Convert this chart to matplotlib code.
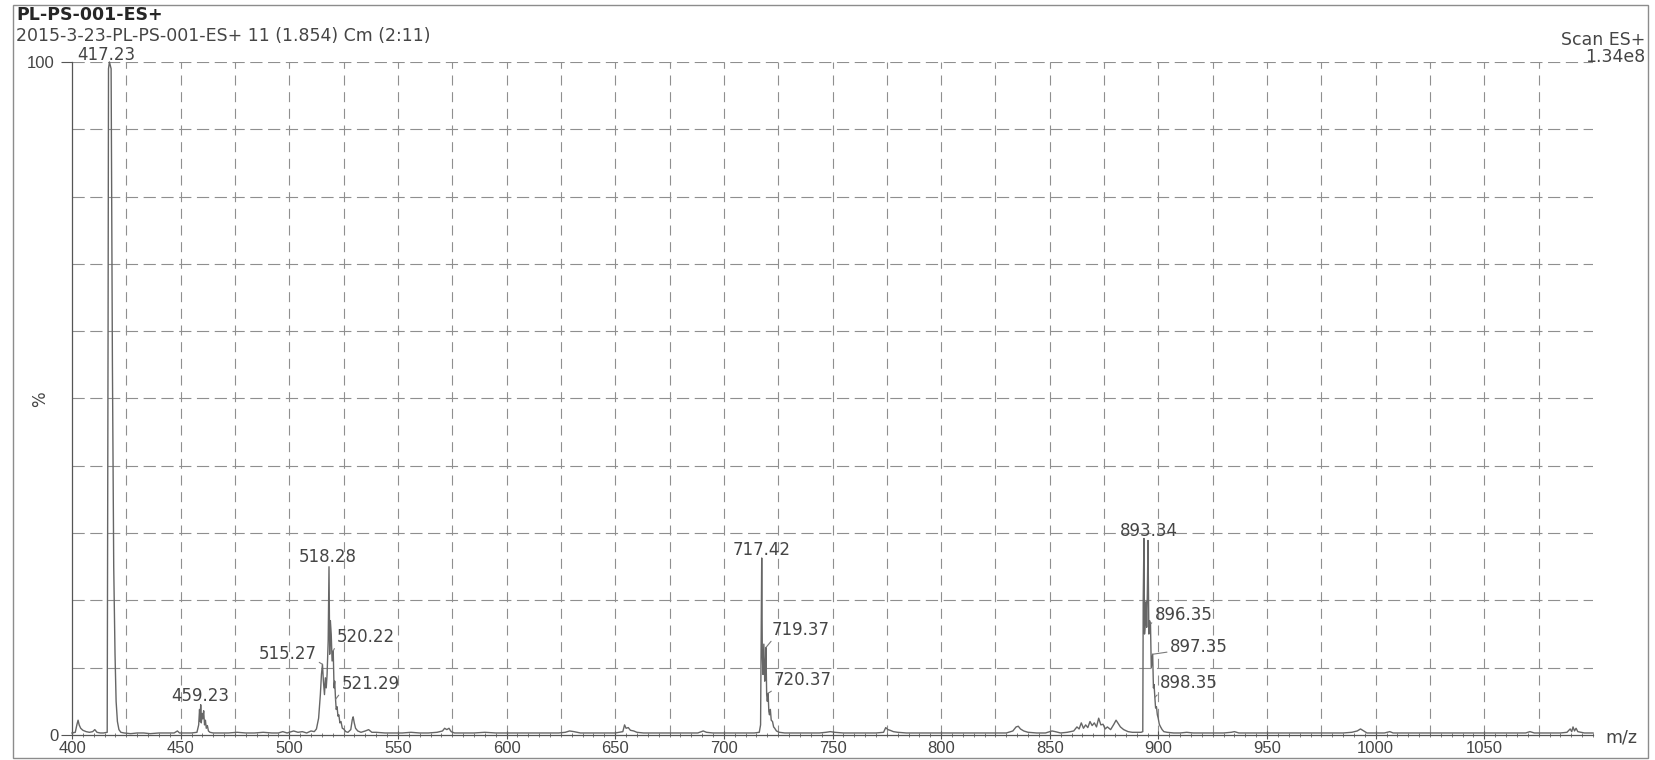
import numpy as np
import matplotlib
matplotlib.use("Agg")
import matplotlib.pyplot as plt
from matplotlib.patches import Rectangle

# ---- spectrum profile (m/z, relative intensity %) ----
mz = [
    400.0, 401.5, 402.3, 402.8, 403.3, 404.0, 405.0, 406.5, 408.0, 409.5,
    410.5, 411.5, 413.0, 414.5, 416.2, 416.6, 416.8, 417.23, 418.0, 418.6,
    419.2, 419.8, 420.3, 420.9, 421.6, 422.5, 424.0, 427.0, 430.0, 433.0,
    436.0, 440.0, 444.0, 447.0, 448.5, 449.5, 452.0, 455.0, 457.5, 458.3,
    458.7, 459.0, 459.23, 459.5, 459.9, 460.2, 460.6, 461.0, 461.4, 461.8,
    462.3, 462.8, 463.5, 465.0, 468.0, 472.0, 476.0, 480.0, 484.0, 488.0,
    492.0, 495.0, 497.0, 499.0, 502.0, 504.0, 506.0, 508.0, 510.0, 511.5,
    512.5, 513.5, 514.3, 514.8, 515.27, 515.7, 516.2, 516.6, 517.0, 517.4,
    517.9, 518.28, 518.6, 518.9, 519.3, 519.7, 520.22, 520.6, 520.9, 521.29,
    521.6, 522.0, 522.4, 522.8, 523.3, 523.8, 524.4, 525.0, 526.0, 527.0,
    528.3, 529.0, 529.4, 529.9, 530.5, 531.5, 533.0, 535.0, 536.5, 538.0,
    540.0, 544.0, 548.0, 552.0, 556.0, 560.0, 564.0, 568.0, 570.5, 571.5,
    572.5, 573.5, 574.5, 576.0, 580.0, 585.0, 590.0, 595.0, 600.0, 605.0,
    610.0, 615.0, 620.0, 624.0, 627.0, 629.0, 631.0, 634.0, 638.0, 642.0,
    646.0, 650.0, 653.5, 654.3, 655.0, 656.0, 657.0, 658.5, 660.0, 663.0,
    667.0, 671.0, 675.0, 680.0, 685.0, 688.0, 690.5, 692.0, 695.0, 700.0,
    705.0, 710.0, 714.0, 716.3, 716.9, 717.2, 717.42, 717.7, 718.0, 718.4,
    718.8, 719.1, 719.37, 719.7, 720.0, 720.37, 720.7, 721.0, 721.4, 721.8,
    722.4, 722.9, 723.4, 724.2, 725.5, 728.0, 732.0, 736.0, 740.0, 744.0,
    747.0, 749.0, 751.0, 755.0, 760.0, 765.0, 770.0, 773.5, 774.5, 775.5,
    776.5, 778.0, 780.0, 784.0, 788.0, 792.0, 796.0, 800.0, 805.0, 810.0,
    815.0, 820.0, 825.0, 830.0, 833.0, 834.5, 835.5, 836.5, 838.0, 840.0,
    844.0, 848.0, 851.0, 852.5, 855.0, 858.0, 861.0, 862.5, 863.5, 864.5,
    865.5, 866.5, 867.5, 868.5, 869.5, 870.5, 871.5, 872.5, 873.5, 874.5,
    875.5, 876.5, 878.0, 879.5, 880.5, 881.5, 882.5, 884.0, 886.0, 888.0,
    890.0, 892.0, 892.8, 893.0, 893.34, 893.6, 894.0, 894.34, 894.6, 894.9,
    895.2, 895.6, 895.9, 896.35, 896.7, 897.0, 897.35, 897.7, 898.0, 898.35,
    898.7, 899.1, 899.5, 899.9, 900.4, 901.0, 901.7, 902.5, 904.0, 907.0,
    910.0, 913.0, 916.0, 920.0, 925.0, 930.0, 933.5, 935.0, 937.0, 940.0,
    945.0, 950.0, 955.0, 960.0, 965.0, 970.0, 975.0, 980.0, 985.0, 989.0,
    991.5, 993.0, 994.5, 996.0, 1000.0, 1004.0, 1006.5, 1008.0, 1012.0, 1016.0,
    1020.0, 1025.0, 1030.0, 1035.0, 1040.0, 1045.0, 1050.0, 1055.0, 1060.0, 1065.0,
    1069.0, 1071.0, 1073.0, 1077.0, 1081.0, 1085.0, 1088.0, 1089.5, 1090.2, 1090.8,
    1091.5, 1092.2, 1093.0, 1094.5, 1096.0, 1098.0, 1100.0,
]
intensity = [
    0.3, 0.4, 1.6, 2.2, 1.5, 1.0, 0.7, 0.5, 0.4, 0.5,
    0.8, 0.4, 0.3, 0.3, 0.4, 60.0, 99.0, 100.0, 99.0, 55.0,
    25.0, 12.0, 5.0, 2.0, 0.8, 0.4, 0.3, 0.2, 0.3, 0.3,
    0.2, 0.3, 0.3, 0.3, 0.6, 0.3, 0.3, 0.3, 0.4, 1.5,
    3.8, 2.0, 4.5, 1.8, 3.2, 2.4, 3.6, 1.5, 2.2, 1.0,
    1.4, 0.6, 0.4, 0.3, 0.3, 0.3, 0.4, 0.3, 0.3, 0.4,
    0.3, 0.3, 0.5, 0.3, 0.6, 0.4, 0.5, 0.3, 0.6, 0.5,
    0.9, 2.5, 6.0, 9.0, 10.5, 8.0, 6.0, 8.5, 7.0, 9.0,
    14.0, 25.0, 12.0, 17.0, 15.0, 11.0, 12.5, 7.0, 8.0, 5.3,
    3.8, 4.2, 2.8, 3.0, 1.8, 2.0, 1.0, 0.9, 0.5, 0.4,
    0.8, 2.3, 2.7, 1.8, 1.0, 0.6, 0.4, 0.6, 0.8, 0.4,
    0.4, 0.3, 0.3, 0.3, 0.4, 0.3, 0.3, 0.4, 0.6, 1.0,
    0.8, 1.0, 0.5, 0.3, 0.3, 0.3, 0.4, 0.3, 0.3, 0.3,
    0.3, 0.3, 0.3, 0.3, 0.4, 0.6, 0.5, 0.3, 0.3, 0.3,
    0.3, 0.3, 0.5, 1.5, 1.0, 1.1, 0.7, 0.6, 0.4, 0.3,
    0.3, 0.3, 0.3, 0.3, 0.3, 0.3, 0.6, 0.4, 0.3, 0.3,
    0.3, 0.3, 0.3, 0.4, 1.5, 15.0, 26.3, 12.0, 9.0, 13.5,
    8.0, 10.0, 13.0, 6.0, 5.0, 6.2, 3.5, 3.0, 3.8, 2.2,
    2.0, 1.2, 1.0, 0.6, 0.4, 0.3, 0.3, 0.3, 0.3, 0.3,
    0.4, 0.5, 0.4, 0.3, 0.3, 0.3, 0.3, 0.4, 1.1, 0.8,
    0.7, 0.5, 0.4, 0.3, 0.3, 0.3, 0.3, 0.3, 0.3, 0.3,
    0.3, 0.3, 0.3, 0.3, 0.6, 1.2, 1.3, 0.9, 0.6, 0.4,
    0.3, 0.3, 0.6, 0.5, 0.3, 0.4, 0.6, 1.2, 0.9, 1.8,
    1.0, 1.5, 1.1, 2.0, 1.4, 1.8, 1.2, 2.5, 1.5, 1.6,
    0.9, 1.2, 0.8, 1.6, 2.2, 1.7, 1.2, 0.8, 0.5, 0.4,
    0.4, 0.4, 0.5, 20.0, 29.2, 15.0, 17.0, 19.8, 16.0, 21.0,
    28.9, 15.0, 17.0, 16.5, 10.0, 11.0, 12.0, 7.0, 7.5, 5.6,
    4.0, 4.2, 3.0, 2.5, 1.6, 1.2, 0.8, 0.5, 0.4, 0.3,
    0.3, 0.4, 0.3, 0.3, 0.3, 0.3, 0.4, 0.5, 0.3, 0.3,
    0.3, 0.3, 0.3, 0.3, 0.3, 0.3, 0.3, 0.3, 0.3, 0.4,
    0.6, 0.9, 0.6, 0.3, 0.3, 0.3, 0.5, 0.3, 0.3, 0.3,
    0.3, 0.3, 0.3, 0.3, 0.3, 0.3, 0.3, 0.3, 0.3, 0.3,
    0.3, 0.5, 0.3, 0.3, 0.3, 0.3, 0.4, 0.9, 0.5, 1.2,
    0.6, 1.0, 0.5, 0.4, 0.3, 0.3, 0.3,
]

# ---- labelled peaks ----
peak_labels = ["417.23", "459.23", "515.27", "518.28", "520.22", "521.29",
               "717.42", "719.37", "720.37", "893.34", "896.35", "897.35",
               "898.35"]

# label placement: text-centre offset from peak top (pixels), leader anchor on text
label_layout = {
    "417.23": ((-3, 7), None),
    "459.23": ((0, 9), None),
    "515.27": ((-35, 10), (1.0, 0.15)),
    "518.28": ((-1, 10), None),
    "520.22": ((33, 14), (0.0, 0.15)),
    "521.29": ((35, 15), (0.0, 0.1)),
    "717.42": ((0, 8), None),
    "719.37": ((35, 18), (0.05, 0.1)),
    "720.37": ((35, 13), (0.05, 0.1)),
    "893.34": ((5, 7), None),
    "896.35": ((33, 9), (0.0, 0.2)),
    "897.35": ((46, 7), (0.0, 0.25)),
    "898.35": ((34, 14), (0.03, 0.1)),
}

x_major = np.arange(400, 1051, 50)
x_minor = np.arange(400, 1101, 5)
grid_x = np.arange(425, 1100, 25)
grid_y = np.arange(10, 101, 10)

W, H = 1655, 760
fig = plt.figure(figsize=(W / 100, H / 100), dpi=100)
fig.patch.set_facecolor("white")

ax = fig.add_axes([72 / W, 25 / H, 1521 / W, 673 / H])
ax.set_xlim(400, 1100)
ax.set_ylim(0, 100)

grid_color = "#8f8f8f"
for gx in grid_x:
    ax.axvline(gx, color=grid_color, lw=0.8, ls=(0, (9, 6)), zorder=1)
for gy in grid_y:
    ax.axhline(gy, color=grid_color, lw=0.8, ls=(0, (11, 5)), zorder=1)

ax.plot(mz, intensity, color="#666666", lw=1.0, zorder=3, clip_on=False)

text_color = "#454545"
mz_arr = np.array(mz)
int_arr = np.array(intensity)
for lab in peak_labels:
    m = float(lab)
    h = int_arr[np.argmin(np.abs(mz_arr - m))]
    (dx, dy), rel = label_layout[lab]
    kw = {}
    if rel is not None:
        kw["arrowprops"] = dict(arrowstyle="-", color="#7a7a7a", lw=0.8,
                                shrinkA=0, shrinkB=0, relpos=rel)
    ax.annotate(lab, xy=(m, h), xytext=(dx, dy), textcoords="offset pixels",
                ha="center", va="center", fontsize=12, color=text_color,
                family="DejaVu Sans", zorder=4, **kw)

# axes styling
for side in ("top", "right"):
    ax.spines[side].set_visible(False)
for side in ("left", "bottom"):
    ax.spines[side].set_color("#555555")
    ax.spines[side].set_linewidth(0.9)

ax.set_xticks(x_major)
ax.set_xticks(x_minor, minor=True)
ax.set_xticklabels([str(v) for v in x_major])
ax.tick_params(axis="x", which="major", direction="inout", length=6, width=0.8,
               color="#555555", labelsize=12, labelcolor=text_color, pad=1)
ax.tick_params(axis="x", which="minor", direction="inout", length=3, width=0.6,
               color="#666666")
ax.set_yticks([0, 100])
ax.set_yticklabels(["0", "100"])
ax.tick_params(axis="y", direction="out", length=8, width=0.8, color="#555555",
               labelsize=12, labelcolor=text_color, pad=1.5)
ax.yaxis.get_major_ticks()[1].set_pad(4.5)
for t in ax.get_xticklabels() + ax.get_yticklabels():
    t.set_family("Liberation Sans")

# header and axis captions
fig.text(16 / W, 1 - 15 / H, "PL-PS-001-ES+", fontsize=12.5, weight="bold",
         ha="left", va="center", color="#262626", family="DejaVu Sans")
fig.text(16 / W, 1 - 36 / H, "2015-3-23-PL-PS-001-ES+ 11 (1.854) Cm (2:11)",
         fontsize=12.5, ha="left", va="center", color=text_color, family="DejaVu Sans")
fig.text(1645 / W, 1 - 40 / H, "Scan ES+", fontsize=12.5, ha="right", va="center",
         color=text_color, family="DejaVu Sans")
fig.text(1645 / W, 1 - 57 / H, "1.34e8", fontsize=12.5, ha="right", va="center",
         color=text_color, family="DejaVu Sans")
fig.text(40 / W, 1 - 399 / H, "%", fontsize=12, rotation=90, ha="center",
         va="center", color=text_color, family="DejaVu Sans")
fig.text(1621 / W, 1 - 738 / H, "m/z", fontsize=12.5, ha="center", va="center",
         color=text_color, family="DejaVu Sans")

# page frame
fig.patches.append(Rectangle((13 / W, 2 / H), 1635 / W, 753 / H,
                             transform=fig.transFigure, fill=False,
                             ec="#8c8c8c", lw=1.0))

fig.savefig("out.png", dpi=100)
